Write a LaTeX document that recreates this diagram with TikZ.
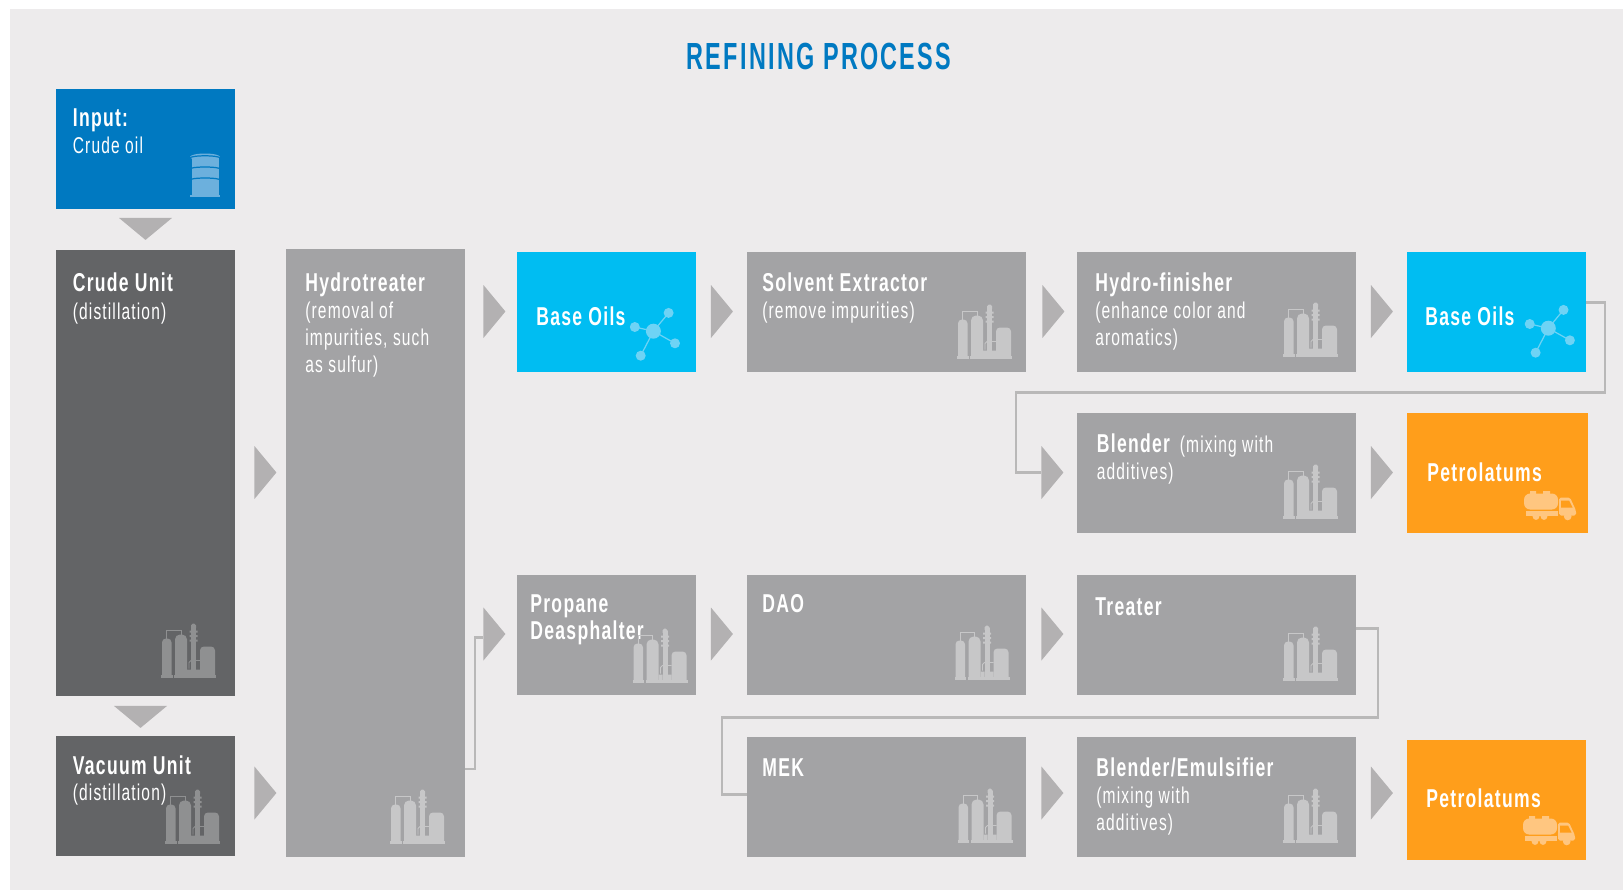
\documentclass[tikz,border=0pt]{standalone}
\usepackage{fontspec}
\setmainfont[FakeStretch=0.68, LetterSpace=5]{Liberation Sans}
\newfontfamily\titlefont[FakeStretch=0.62, LetterSpace=6]{Liberation Sans}
\usetikzlibrary{shapes.geometric}

\definecolor{panelbg}{HTML}{EDEBEC}
\definecolor{inputblue}{HTML}{0079C1}
\definecolor{darkunit}{HTML}{636466}
\definecolor{greyunit}{HTML}{A3A3A5}
\definecolor{oilblue}{HTML}{00BDF2}
\definecolor{petroorange}{HTML}{FF9E1B}
\definecolor{pointer}{HTML}{B3B1B2}
\definecolor{pipeline}{HTML}{B9B8B8}
\definecolor{plantlight}{HTML}{C7C7C8}
\definecolor{plantdark}{HTML}{8F9091}
\definecolor{barrelfill}{HTML}{6CB0DD}
\definecolor{moleculefill}{HTML}{6ED3F5}
\definecolor{truckfill}{HTML}{FFC680}

\newcommand{\unithead}[1]{{\bfseries\fontsize{14.7}{15.4}\selectfont #1}}

\tikzset{
  unitbox/.style={rectangle, inner sep=0pt, minimum width=35.8mm, minimum height=24mm},
  widebox/.style={unitbox, minimum width=55.8mm},
  boxtext/.style={anchor=north west, inner sep=0pt, align=left, text=white,
    font=\fontsize{13}{15.4}\selectfont},
  rightpointer/.style={isosceles triangle, isosceles triangle stretches, shape border rotate=0,
    fill=pointer, inner sep=0pt, minimum height=4.4mm, minimum width=10.6mm},
  downpointer/.style={isosceles triangle, isosceles triangle stretches, shape border rotate=-90,
    fill=pointer, inner sep=0pt, minimum height=4.4mm, minimum width=10.6mm},
  pipe/.style={draw=pipeline, line width=1.2pt},
  pics/plant/.style={code={
    \fill[#1] (0,51) rectangle (11.7,54);
    \fill[#1] (1,52) [rounded corners=2.2pt] -- (1,15) -- (10.5,15) [sharp corners] -- (10.5,52) -- cycle;
    \fill[#1] (13,51) rectangle (55,54);
    \fill[#1] (14,52) [rounded corners=2.8pt] -- (14,11) -- (26,11) [sharp corners] -- (26,52) -- cycle;
    \draw[#1, line width=0.5pt] (5.5,15) -- (5.5,6.5) -- (20,6.5) -- (20,11);
    \fill[#1] (30,2) rectangle (35,52);
    \fill[#1, rounded corners=1pt] (30,0) rectangle (35,6);
    \fill[#1] (28.5,7) rectangle (36.5,9) (28.5,11.5) rectangle (36.5,13.5) (28.5,16) rectangle (36.5,18);
    \fill[#1] (39,52) [rounded corners=2.2pt] -- (39,23) -- (54,23) [sharp corners] -- (54,52) -- cycle;
    \draw[#1, line width=0.5pt] (28,45) -- (28,39) -- (30,37) -- (39,37);
    \fill[#1] (26,46) rectangle (30,52) (35,46) rectangle (39,52);
  }},
  pics/molecule/.style={code={
    \draw[moleculefill, line width=0.7pt] (-18.6,-4.2) -- (0,0) -- (15.2,-18.3) (21.6,12.1) -- (0,0) -- (-12.7,24.5);
    \fill[moleculefill] (0,0) circle (7.5);
    \fill[moleculefill] (-18.6,-4.2) circle (5) (15.2,-18.3) circle (5) (21.6,12.1) circle (5) (-12.7,24.5) circle (5);
  }},
  pics/truck/.style={code={
    \fill[truckfill, rounded corners=3.5pt] (0,3) rectangle (34,19);
    \fill[truckfill] (6,0.5) rectangle (12,4) (19,0.5) rectangle (26,4);
    \fill[truckfill] (2,20.5) rectangle (34,25);
    \fill[truckfill, rounded corners=1pt] (35,25) -- (35,7) -- (46,7) -- (52,20) -- (52,25) -- cycle;
    \fill[petroorange] (37,10) -- (45,10) -- (48.5,17) -- (37,17) -- cycle;
    \fill[truckfill] (12,26) circle (3.4) (20,26) circle (3.4) (43.7,26) circle (3.8);
  }},
  pics/barrel/.style={code={
    \fill[barrelfill] (15,3.5) ellipse [x radius=15, y radius=3.5];
    \fill[barrelfill] (1.5,4) rectangle (28.5,43);
    \fill[barrelfill] (0,41.5) rectangle (30,43.5);
    \draw[inputblue, line width=0.7pt] (0,4.5) arc[start angle=180, end angle=360, x radius=15, y radius=2.2];
    \draw[inputblue, line width=0.7pt] (0,15.5) arc[start angle=180, end angle=360, x radius=15, y radius=2];
    \draw[inputblue, line width=0.7pt] (0,26.5) arc[start angle=180, end angle=360, x radius=15, y radius=2];
  }}
}

\begin{document}
\begin{tikzpicture}[x=0.2mm, y=-0.2mm]
  % Background
  \useasboundingbox (0,-0.5) rectangle (1623,889.5);
  \fill[white] (0,-0.5) rectangle (1623,889.5);
  \fill[panelbg] (10,8) rectangle (1623,889.5);

  % Title
  \node[inner sep=0pt, text=inputblue, font=\titlefont\bfseries\fontsize{21.5}{26}\selectfont] (title) at (819,55.5) {REFINING PROCESS};

  % Boxes
  \node[unitbox, fill=inputblue] (input) at (145.5,148) {};
  \node[unitbox, fill=darkunit, minimum height=89.2mm] (crude) at (145.5,472) {};
  \node[unitbox, fill=darkunit] (vacuum) at (145.5,795) {};
  \node[unitbox, fill=greyunit, minimum height=121.4mm] (hydrotreater) at (375.5,552.5) {};
  \node[unitbox, fill=oilblue] (baseoilsa) at (606.5,311) {};
  \node[widebox, fill=greyunit] (solvent) at (886.5,311) {};
  \node[widebox, fill=greyunit] (finisher) at (1216.5,311) {};
  \node[unitbox, fill=oilblue] (baseoilsb) at (1496.5,311) {};
  \node[widebox, fill=greyunit] (blender) at (1216.5,472) {};
  \node[unitbox, fill=petroorange, minimum width=36.2mm] (petroa) at (1497.5,472) {};
  \node[unitbox, fill=greyunit] (propane) at (606.5,634) {};
  \node[widebox, fill=greyunit] (dao) at (886.5,634) {};
  \node[widebox, fill=greyunit] (treater) at (1216.5,634) {};
  \node[widebox, fill=greyunit] (mek) at (886.5,796) {};
  \node[widebox, fill=greyunit] (emulsifier) at (1216.5,796) {};
  \node[unitbox, fill=petroorange] (petrob) at (1496.5,799) {};

  % Pointers
  \node[downpointer] (inputdown) at (145.5,227) {};
  \node[downpointer] (crudedown) at (140.5,715) {};
  \node[rightpointer] (crudeout) at (264,472) {};
  \node[rightpointer] (vacuumout) at (264,792.5) {};
  \node[rightpointer] (hydroout) at (493,311) {};
  \node[rightpointer] (propanein) at (493,633.5) {};
  \node[rightpointer] (baseout) at (720.5,311) {};
  \node[rightpointer] (solventout) at (1052,311) {};
  \node[rightpointer] (finisherout) at (1380.5,311) {};
  \node[rightpointer] (blenderin) at (1051,472) {};
  \node[rightpointer] (blenderout) at (1380.5,472) {};
  \node[rightpointer] (propaneout) at (720.5,633.5) {};
  \node[rightpointer] (daoout) at (1051,633.5) {};
  \node[rightpointer] (mekout) at (1051,792.5) {};
  \node[rightpointer] (emulsifierout) at (1380.5,792.5) {};

  % Pipes
  \coordinate (hydroexit) at (465,768.5);
  \coordinate (oilexit) at (1586,302);
  \coordinate (treaterexit) at (1356,628);
  \coordinate (mekentry) at (747,794);
  \draw[pipe] (hydroexit) -- (475,768.5) -- (475,637) -- (propanein.west |- 0,637);
  \draw[pipe] (oilexit) -- (1605,302) -- (1605,392) -- (1016,392) -- (1016,472) -- (blenderin.west);
  \draw[pipe] (treaterexit) -- (1378,628) -- (1378,717) -- (722,717) -- (722,794) -- (mekentry);

  % Labels
  \node[boxtext] (inputtext) at (72.5,106.5) {\unithead{Input:}\strut\\Crude oil};
  \node[boxtext] (crudetext) at (72.5,271.5) {\unithead{Crude Unit}\strut\\[0.5pt](distillation)};
  \node[boxtext] (vacuumtext) at (72.5,755) {\unithead{Vacuum Unit}\strut\\[-1pt](distillation)};
  \node[boxtext] (hydrotext) at (305,272) {\unithead{Hydrotreater}\strut\\(removal of\\impurities, such\\as sulfur)};
  \node[boxtext] (baseoilsatext) at (536,305.5) {\unithead{Base Oils}\strut};
  \node[boxtext] (solventtext) at (762,272) {\unithead{Solvent Extractor}\strut\\(remove impurities)};
  \node[boxtext] (finishertext) at (1095,272) {\unithead{Hydro-finisher}\strut\\(enhance color and\\aromatics)};
  \node[boxtext] (baseoilsbtext) at (1425,305.5) {\unithead{Base Oils}\strut};
  \node[boxtext] (blendertext) at (1096.5,433) {\unithead{Blender}\hspace{2.5pt} (mixing with\strut\\additives)};
  \node[boxtext] (petroatext) at (1427,462) {\unithead{Petrolatums}\strut};
  \node[boxtext] (propanetext) at (530,593) {\unithead{Propane}\strut\\\unithead{Deasphalter}};
  \node[boxtext] (daotext) at (762,593) {\unithead{DAO}\strut};
  \node[boxtext] (treatertext) at (1095,596) {\unithead{Treater}\strut};
  \node[boxtext] (mektext) at (762,757) {\unithead{MEK}\strut};
  \node[boxtext] (emulsifiertext) at (1096,757) {\unithead{Blender/Emulsifier}\strut\\(mixing with\\additives)};
  \node[boxtext] (petrobtext) at (1426,788) {\unithead{Petrolatums}\strut};

  % Icons
  \pic (barrelicon) at (190,153) {barrel};
  \pic (crudeplant) at (161,623) {plant=plantdark};
  \pic (vacuumplant) at (165,789) {plant=plantdark};
  \pic (hydroplant) at (390,789) {plant=plantlight};
  \pic (solventplant) at (957,304) {plant=plantlight};
  \pic (finisherplant) at (1283,302) {plant=plantlight};
  \pic (blenderplant) at (1283,464) {plant=plantlight};
  \pic (propaneplant) at (632.5,628) {plant=plantlight};
  \pic (daoplant) at (954.5,625) {plant=plantlight};
  \pic (treaterplant) at (1283,626) {plant=plantlight};
  \pic (mekplant) at (957.5,788) {plant=plantlight};
  \pic (emulsifierplant) at (1283,788) {plant=plantlight};
  \pic (moleculea) at (653.4,330.7) {molecule};
  \pic (moleculeb) at (1548.3,327.7) {molecule};
  \pic (trucka) at (1524,490) {truck};
  \pic (truckb) at (1523,815) {truck};
\end{tikzpicture}
\end{document}
